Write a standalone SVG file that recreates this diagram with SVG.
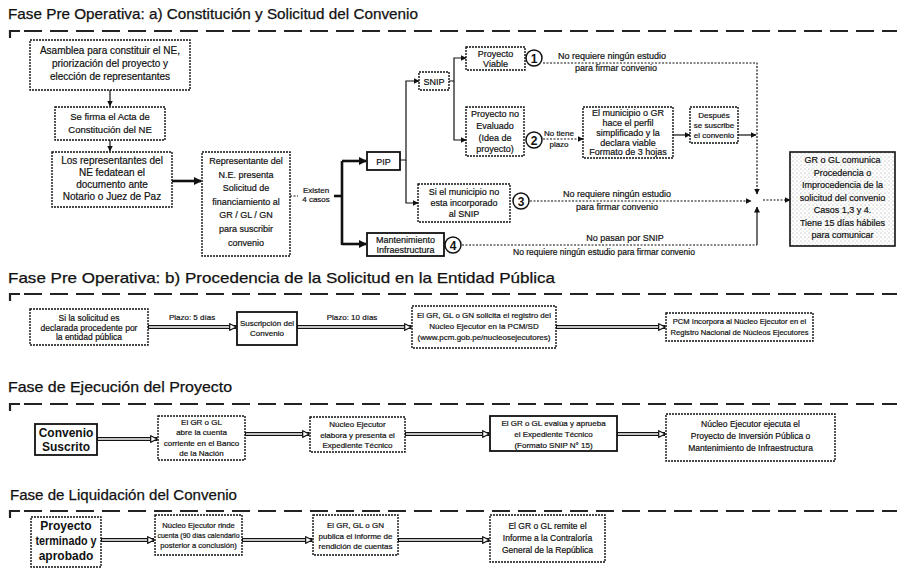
<svg xmlns="http://www.w3.org/2000/svg" width="897" height="570" viewBox="0 0 897 570">
  <style>
    .ttl { font-family: "Liberation Sans", Arial, sans-serif; font-size: 15px; fill: #111; stroke: #111; stroke-width: 0.25; }
    .t { font-family: "Liberation Sans", Arial, sans-serif; fill: #111; text-anchor: middle; stroke: #111; stroke-width: 0.2; }
    .s10 { font-size: 10px; }
    .s9 { font-size: 9px; }
    .s95 { font-size: 9.5px; }
    .s85 { font-size: 8.5px; }
    .s8 { font-size: 8px; }
    .s75 { font-size: 7.6px; }
    .big { font-size: 12px; font-weight: bold; stroke-width: 0; }
    .num { font-family: "Liberation Sans", Arial, sans-serif; font-size: 12px; font-weight: bold; fill: #111; text-anchor: middle; }
    .bx { fill: #fff; stroke: #111; stroke-width: 1.4; stroke-dasharray: 2 1; }
    .bs { fill: #fff; stroke: #111; stroke-width: 1.8; }
    .sep { fill: none; stroke: #222; stroke-width: 2.2; stroke-dasharray: 18 8; }
    .corner { fill: none; stroke: #222; stroke-width: 2.2; }
    .thick { fill: none; stroke: #111; stroke-width: 2.6; }
    .thin { fill: none; stroke: #111; stroke-width: 1.2; }
    .dot { fill: none; stroke: #111; stroke-width: 1.2; stroke-dasharray: 2 1.5; }
    .dbl-o { fill: none; stroke: #111; stroke-width: 4; }
    .dbl-i { fill: none; stroke: #fff; stroke-width: 1.6; }
    .circ { fill: #fff; stroke: #111; stroke-width: 1.5; }
  </style>
  <defs>
    <marker id="arrFill" viewBox="0 0 8 8" refX="7" refY="4" markerWidth="8" markerHeight="8" markerUnits="userSpaceOnUse" orient="auto">
      <path d="M0,0 L8,4 L0,8 z" fill="#111"/>
    </marker>
    <marker id="arrSmall" viewBox="0 0 6 6" refX="5.5" refY="3" markerWidth="6" markerHeight="6" markerUnits="userSpaceOnUse" orient="auto">
      <path d="M0,0 L6,3 L0,6 z" fill="#111"/>
    </marker>
    <marker id="arrHollow" viewBox="0 0 8 8" refX="7" refY="4" markerWidth="8" markerHeight="8" markerUnits="userSpaceOnUse" orient="auto">
      <path d="M0.7,0.7 L7.3,4 L0.7,7.3 z" fill="#fff" stroke="#111" stroke-width="1.2"/>
    </marker>
    <pattern id="stipple" width="4" height="4" patternUnits="userSpaceOnUse">
      <rect width="4" height="4" fill="#fff"/>
      <circle cx="1" cy="1" r="0.6" fill="#999"/>
      <circle cx="3" cy="3" r="0.5" fill="#bbb"/>
    </pattern>
  </defs>

  <rect width="897" height="570" fill="#fff"/>

  <!-- Section headings with dashed separators -->
  <g id="headings">
    <text class="ttl" x="8" y="19" textLength="410" lengthAdjust="spacingAndGlyphs">Fase Pre Operativa:  a) Constitución y Solicitud del Convenio</text>
    <path class="corner" d="M10,38 V31 H20"/>
    <path class="sep" d="M24,31 H897"/>

    <text class="ttl" x="8" y="283" textLength="547" lengthAdjust="spacingAndGlyphs">Fase Pre Operativa:  b) Procedencia de la Solicitud en la Entidad Pública</text>
    <path class="corner" d="M10,301 V294 H20"/>
    <path class="sep" d="M24,294 H897"/>

    <text class="ttl" x="8" y="392" textLength="224" lengthAdjust="spacingAndGlyphs">Fase de Ejecución del Proyecto</text>
    <path class="corner" d="M10,411 V404 H20"/>
    <path class="sep" d="M24,404 H897"/>

    <text class="ttl" x="10" y="500" textLength="227" lengthAdjust="spacingAndGlyphs">Fase de Liquidación del Convenio</text>
    <path class="corner" d="M10,518 V511 H20"/>
    <path class="sep" d="M24,511 H897"/>
  </g>

  <!-- Connectors -->
  <g id="connectors">
    <!-- section a -->
    <path class="thin" d="M110,90 V106" marker-end="url(#arrSmall)"/>
    <path class="thin" d="M110,140 V151" marker-end="url(#arrSmall)"/>
    <path class="thick" d="M172,181 H201" marker-end="url(#arrFill)"/>
    <path class="dot" d="M290,196 H298"/>
    <path class="thick" d="M334,196 H342"/>
    <path class="thick" d="M342,161 V245"/>
    <path class="thick" d="M342,161 H366" marker-end="url(#arrFill)"/>
    <path class="thick" d="M342,244 H366" marker-end="url(#arrFill)"/>
    <path class="thin" d="M400,160 H406 V81 H419" marker-end="url(#arrSmall)"/>
    <path class="thin" d="M406,160 V203 H418" marker-end="url(#arrSmall)"/>
    <path class="thin" d="M449,81 H454 V58 H466" marker-end="url(#arrSmall)"/>
    <path class="thin" d="M454,81 V140 H466" marker-end="url(#arrSmall)"/>
    <path class="dot" d="M543,63 H757 V194" marker-end="url(#arrSmall)"/>
    <path class="dot" d="M543,139 H583" marker-end="url(#arrSmall)"/>
    <path class="thin" d="M673,135 H690" marker-end="url(#arrSmall)"/>
    <path class="thin" d="M738,135 H756" marker-end="url(#arrSmall)"/>
    <path class="dot" d="M530,201 H751" marker-end="url(#arrSmall)"/>
    <path class="dot" d="M462,245 H757"/>
    <path class="thin" d="M757,245 V207" marker-end="url(#arrSmall)"/>
    <path class="dot" d="M763,200 H790" marker-end="url(#arrSmall)"/>

    <!-- section b -->
    <path class="dbl-o" d="M148,327 H236" marker-end="url(#arrHollow)"/>
    <path class="dbl-i" d="M149,327 H229"/>
    <path class="dbl-o" d="M297,327 H411" marker-end="url(#arrHollow)"/>
    <path class="dbl-i" d="M298,327 H404"/>
    <path class="dbl-o" d="M556,327 H665" marker-end="url(#arrHollow)"/>
    <path class="dbl-i" d="M557,327 H658"/>

    <!-- section c -->
    <path class="dbl-o" d="M97,439 H157" marker-end="url(#arrHollow)"/>
    <path class="dbl-i" d="M98,439 H150"/>
    <path class="dbl-o" d="M245,434 H309" marker-end="url(#arrHollow)"/>
    <path class="dbl-i" d="M246,434 H302"/>
    <path class="dbl-o" d="M405,434 H489" marker-end="url(#arrHollow)"/>
    <path class="dbl-i" d="M406,434 H482"/>
    <path class="dbl-o" d="M617,434 H665" marker-end="url(#arrHollow)"/>
    <path class="dbl-i" d="M618,434 H658"/>

    <!-- section d -->
    <path class="dbl-o" d="M101,540 H154" marker-end="url(#arrHollow)"/>
    <path class="dbl-i" d="M102,540 H147"/>
    <path class="dbl-o" d="M242,540 H312" marker-end="url(#arrHollow)"/>
    <path class="dbl-i" d="M243,540 H305"/>
    <path class="dbl-o" d="M398,540 H489" marker-end="url(#arrHollow)"/>
    <path class="dbl-i" d="M399,540 H482"/>
  </g>

  <!-- Connector labels -->
  <g id="labels">
    <text class="t s8" x="316" y="193">Existen</text>
    <text class="t s8" x="316" y="202">4 casos</text>
    <text class="t s9" x="612" y="59">No requiere ningún estudio</text>
    <text class="t s9" x="616" y="71">para firmar convenio</text>
    <text class="t s8" x="559" y="136">No tiene</text>
    <text class="t s8" x="559" y="147">plazo</text>
    <text class="t s9" x="617" y="197">No requiere ningún estudio</text>
    <text class="t s9" x="617" y="210">para firmar convenio</text>
    <text class="t s9" x="625" y="241">No pasan por SNIP</text>
    <text class="t s85" x="604" y="255">No requiere ningún estudio para firmar convenio</text>
    <text class="t s8" x="192" y="320">Plazo: 5 días</text>
    <text class="t s8" x="352" y="320">Plazo: 10 días</text>
  </g>

  <!-- Section a nodes -->
  <g id="asamblea">
    <rect class="bx" x="30" y="40" width="160" height="50"/>
    <text class="t s10" x="110" y="54">Asamblea para constituir el NE,</text>
    <text class="t s10" x="110" y="67">priorización del proyecto y</text>
    <text class="t s10" x="110" y="80">elección de representantes</text>
  </g>
  <g id="acta">
    <rect class="bx" x="55" y="107" width="110" height="33"/>
    <text class="t s95" x="110" y="120">Se firma el Acta de</text>
    <text class="t s95" x="110" y="133">Constitución del NE</text>
  </g>
  <g id="fedatean">
    <rect class="bx" x="52" y="152" width="120" height="55"/>
    <text class="t s10" x="112" y="164">Los representantes del</text>
    <text class="t s10" x="112" y="176">NE fedatean el</text>
    <text class="t s10" x="112" y="188">documento ante</text>
    <text class="t s10" x="112" y="200">Notario o Juez de Paz</text>
  </g>
  <g id="solicitud">
    <rect class="bx" x="202" y="152" width="88" height="104"/>
    <text class="t s9" x="246" y="164">Representante del</text>
    <text class="t s9" x="246" y="178">N.E. presenta</text>
    <text class="t s9" x="246" y="191">Solicitud de</text>
    <text class="t s9" x="246" y="205">financiamiento al</text>
    <text class="t s9" x="246" y="218">GR / GL / GN</text>
    <text class="t s9" x="246" y="232">para suscribir</text>
    <text class="t s9" x="246" y="246">convenio</text>
  </g>
  <g id="pip">
    <rect class="bs" x="367" y="152" width="33" height="18"/>
    <text class="t s9" x="383.5" y="164.5">PIP</text>
  </g>
  <g id="snip">
    <rect class="bx" x="419" y="72" width="30" height="18"/>
    <text class="t s9" x="434" y="84.5">SNIP</text>
  </g>
  <g id="viable">
    <rect class="bx" x="466" y="47" width="59" height="23"/>
    <text class="t s9" x="495.5" y="57">Proyecto</text>
    <text class="t s9" x="495.5" y="67">Viable</text>
    <circle class="circ" cx="534" cy="58" r="8"/>
    <text class="num" x="534" y="62.5">1</text>
  </g>
  <g id="no-evaluado">
    <rect class="bx" x="466" y="107" width="58" height="49"/>
    <text class="t s9" x="495" y="117">Proyecto no</text>
    <text class="t s9" x="495" y="129">Evaluado</text>
    <text class="t s9" x="495" y="141">(Idea de</text>
    <text class="t s9" x="495" y="152">proyecto)</text>
    <circle class="circ" cx="534" cy="140" r="8"/>
    <text class="num" x="534" y="144.5">2</text>
  </g>
  <g id="perfil">
    <rect class="bx" x="583" y="107" width="90" height="51"/>
    <text class="t s9" x="628" y="116">El municipio o GR</text>
    <text class="t s9" x="628" y="126">hace el perfil</text>
    <text class="t s9" x="628" y="136">simplificado y la</text>
    <text class="t s9" x="628" y="146">declara viable</text>
    <text class="t s9" x="628" y="155">Formato de 3 hojas</text>
  </g>
  <g id="despues">
    <rect class="bx" x="690" y="107" width="48" height="36"/>
    <text class="t s8" x="714" y="118">Después</text>
    <text class="t s8" x="714" y="128">se suscribe</text>
    <text class="t s8" x="714" y="138">el convenio</text>
  </g>
  <g id="no-snip">
    <rect class="bx" x="418" y="184" width="92" height="38"/>
    <text class="t s9" x="464" y="195">Si el municipio no</text>
    <text class="t s9" x="464" y="206">esta incorporado</text>
    <text class="t s9" x="464" y="217">al SNIP</text>
    <circle class="circ" cx="521" cy="201" r="8"/>
    <text class="num" x="521" y="205.5">3</text>
  </g>
  <g id="mantenimiento">
    <rect class="bs" x="367" y="233" width="77" height="23"/>
    <text class="t s9" x="405.5" y="243">Mantenimiento</text>
    <text class="t s9" x="405.5" y="253">Infraestructura</text>
    <circle class="circ" cx="453" cy="245" r="8"/>
    <text class="num" x="453" y="249.5">4</text>
  </g>
  <g id="comunica">
    <rect x="790" y="152" width="105" height="94" fill="url(#stipple)" stroke="#111" stroke-width="1.6"/>
    <text class="t s9" x="842.5" y="163">GR o GL comunica</text>
    <text class="t s9" x="842.5" y="175.5">Procedencia o</text>
    <text class="t s9" x="842.5" y="188">Improcedencia de la</text>
    <text class="t s9" x="842.5" y="200.5">solicitud del convenio</text>
    <text class="t s9" x="842.5" y="213">Casos 1,3 y 4.</text>
    <text class="t s9" x="842.5" y="225.5">Tiene 15 días hábiles</text>
    <text class="t s9" x="842.5" y="238">para comunicar</text>
  </g>

  <!-- Section b nodes -->
  <g id="procedente">
    <rect class="bx" x="30" y="309" width="118" height="36"/>
    <text class="t s85" x="89" y="321">Si la solicitud es</text>
    <text class="t s85" x="89" y="330.5">declarada procedente por</text>
    <text class="t s85" x="89" y="340">la entidad pública</text>
  </g>
  <g id="suscripcion">
    <rect class="bs" x="237" y="312" width="60" height="33"/>
    <text class="t s8" x="267" y="326">Suscripción del</text>
    <text class="t s8" x="267" y="336">Convenio</text>
  </g>
  <g id="registro">
    <rect class="bx" x="412" y="306" width="144" height="42"/>
    <text class="t s8" x="484" y="318">El GR, GL o GN solicita el registro del</text>
    <text class="t s8" x="484" y="328.5">Núcleo Ejecutor en la PCM/SD</text>
    <text class="t s8" x="484" y="339.5">(www.pcm.gob.pe/nucleosejecutores)</text>
  </g>
  <g id="pcm">
    <rect class="bx" x="666" y="313" width="147" height="28"/>
    <text class="t s75" x="739.5" y="324">PCM Incorpora al Núcleo Ejecutor en el</text>
    <text class="t s75" x="739.5" y="335">Registro Nacional de Núcleos Ejecutores</text>
  </g>

  <!-- Section c nodes -->
  <g id="convenio-suscrito">
    <rect class="bs" x="35" y="424" width="62" height="31"/>
    <text class="t big" x="66" y="437">Convenio</text>
    <text class="t big" x="66" y="451">Suscrito</text>
  </g>
  <g id="cuenta">
    <rect class="bx" x="158" y="416" width="87" height="44"/>
    <text class="t s8" x="201.5" y="425">El GR o GL</text>
    <text class="t s8" x="201.5" y="435">abre la cuenta</text>
    <text class="t s8" x="201.5" y="446">corriente en el Banco</text>
    <text class="t s8" x="201.5" y="456">de la Nación</text>
  </g>
  <g id="expediente">
    <rect class="bx" x="310" y="417" width="95" height="35"/>
    <text class="t s8" x="357.5" y="427">Núcleo Ejecutor</text>
    <text class="t s8" x="357.5" y="437.5">elabora y presenta el</text>
    <text class="t s8" x="357.5" y="448">Expediente Técnico</text>
  </g>
  <g id="evalua">
    <rect class="bs" x="490" y="416" width="127" height="35"/>
    <text class="t s8" x="553.5" y="426">El GR o GL evalúa y aprueba</text>
    <text class="t s8" x="553.5" y="437">el Expediente Técnico</text>
    <text class="t s8" x="553.5" y="448">(Formato SNIP N° 15)</text>
  </g>
  <g id="ejecuta">
    <rect class="bx" x="666" y="414" width="169" height="47"/>
    <text class="t s85" x="750.5" y="427">Núcleo Ejecutor ejecuta el</text>
    <text class="t s85" x="750.5" y="439">Proyecto de Inversión Pública o</text>
    <text class="t s85" x="750.5" y="451">Mantenimiento de Infraestructura</text>
  </g>

  <!-- Section d nodes -->
  <g id="terminado">
    <rect class="bx" x="31" y="517" width="70" height="50"/>
    <text class="t big" x="66" y="530">Proyecto</text>
    <text class="t big" x="66" y="545" textLength="61" lengthAdjust="spacingAndGlyphs">terminado y</text>
    <text class="t big" x="66" y="560">aprobado</text>
  </g>
  <g id="rinde">
    <rect class="bx" x="155" y="515" width="87" height="40"/>
    <text class="t s75" x="198.5" y="528">Núcleo Ejecutor rinde</text>
    <text class="t s75" x="198.5" y="538" textLength="82" lengthAdjust="spacingAndGlyphs">cuenta (90 días calendario</text>
    <text class="t s75" x="198.5" y="548">posterior a conclusión)</text>
  </g>
  <g id="publica">
    <rect class="bx" x="313" y="515" width="85" height="40"/>
    <text class="t s8" x="355.5" y="528">El GR, GL o GN</text>
    <text class="t s8" x="355.5" y="538.5">publica el informe de</text>
    <text class="t s8" x="355.5" y="549">rendición de cuentas</text>
  </g>
  <g id="contraloria">
    <rect class="bx" x="490" y="515" width="115" height="47"/>
    <text class="t s85" x="547.5" y="529">El GR o GL remite el</text>
    <text class="t s85" x="547.5" y="541">Informe a la Contraloría</text>
    <text class="t s85" x="547.5" y="553">General de la República</text>
  </g>
</svg>
